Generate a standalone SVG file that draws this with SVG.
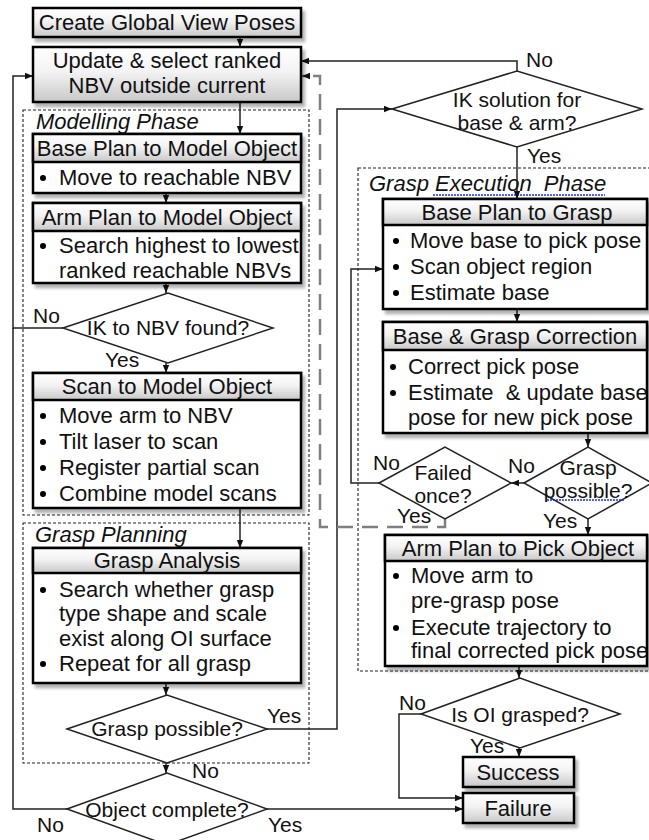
<svg xmlns="http://www.w3.org/2000/svg" width="649" height="840" viewBox="0 0 649 840">
  <defs>
    <linearGradient id="gTitle" x1="0" y1="0" x2="0" y2="1">
      <stop offset="0" stop-color="#ffffff"/>
      <stop offset="0.45" stop-color="#f3f3f3"/>
      <stop offset="1" stop-color="#c8c8c8"/>
    </linearGradient>
    <filter id="shadow" x="-10%" y="-20%" width="130%" height="160%">
      <feGaussianBlur in="SourceAlpha" stdDeviation="1.6"/>
      <feOffset dx="3" dy="4" result="off"/>
      <feComponentTransfer><feFuncA type="linear" slope="0.3"/></feComponentTransfer>
      <feMerge><feMergeNode/><feMergeNode in="SourceGraphic"/></feMerge>
    </filter>
    <marker id="arr" viewBox="0 0 10 10" refX="10" refY="5" markerWidth="8" markerHeight="8" markerUnits="userSpaceOnUse" orient="auto">
      <path d="M0,1 L10,5 L0,9 z" fill="#111"/>
    </marker>
  </defs>
  <style>
    .box { fill: url(#gTitle); stroke: #000; stroke-width: 2.5; }
    .body { fill: #fff; stroke: #000; stroke-width: 2.5; }
    .dia { fill: #fff; stroke: #222; stroke-width: 1.5; }
    .frame { fill: none; stroke: #222; stroke-width: 1.1; stroke-dasharray: 3 2; }
    .t { font-family: "Liberation Sans", Arial, sans-serif; font-size: 22px; fill: #111; }
    .d { font-size: 21px; }
    .c { text-anchor: middle; }
    .it { font-style: italic; }
    .dot { fill: #000; }
    .con { fill: none; stroke: #222; stroke-width: 1.5; }
    .arr { marker-end: url(#arr); }
    .dash { fill: none; stroke: #808080; stroke-width: 2.5; stroke-dasharray: 16 9; marker-end: url(#arr); }
    .spell { fill: none; stroke: #1a2cff; stroke-width: 1.3; stroke-dasharray: 2 1; }
  </style>

  <!-- phase frames -->
  <g id="frames">
    <rect class="frame" x="23" y="110" width="286" height="405"/>
    <text class="t it" x="36" y="129">Modelling Phase</text>
    <rect class="frame" x="23" y="523" width="286" height="240"/>
    <text class="t it" x="35" y="542">Grasp Planning</text>
    <rect class="frame" x="358" y="168" width="296" height="503"/>
    <text class="t it" x="369" y="191" xml:space="preserve">Grasp Execution  Phase</text>
    <path class="spell" d="M433,195 H605"/>
  </g>

  <!-- connectors -->
  <g id="connectors">
    <path class="con arr" d="M240,37 V47"/>
    <path class="con arr" d="M240,102 V134"/>
    <path class="con arr" d="M166,193 V203"/>
    <path class="con arr" d="M166,283 V293"/>
    <path class="con arr" d="M63,328 H13 V76 H33"/>
    <path class="con" d="M67,809 H13 V328"/>
    <path class="con arr" d="M166,363 V373"/>
    <path class="con arr" d="M240,508 V548"/>
    <path class="con arr" d="M166,683 V695"/>
    <path class="con arr" d="M166,763 V773"/>
    <path class="con arr" d="M267,729 H337 V109 H392"/>
    <path class="con arr" d="M267,809 H463"/>
    <path class="con arr" d="M517,71 V61 H301"/>
    <path class="con arr" d="M517,147 V199"/>
    <path class="con arr" d="M517,309 V322"/>
    <path class="con arr" d="M588,433 V447"/>
    <path class="con arr" d="M524,483 H511"/>
    <path class="con arr" d="M379,483 H351 V269 H383"/>
    <path class="dash" d="M445,519 V527 H320 V76 H302"/>
    <path class="con arr" d="M588,519 V535"/>
    <path class="con arr" d="M519,666 V678"/>
    <path class="con arr" d="M421,714 H399 V798 H463"/>
    <path class="con arr" d="M519,748 V757"/>

    <text class="t d" x="33" y="323">No</text>
    <text class="t d" x="105" y="367">Yes</text>
    <text class="t d" x="267" y="723">Yes</text>
    <text class="t d" x="192" y="778">No</text>
    <text class="t d" x="37" y="832">No</text>
    <text class="t d" x="268" y="832">Yes</text>
    <text class="t d" x="526" y="67">No</text>
    <text class="t d" x="527" y="163">Yes</text>
    <text class="t d" x="508" y="473">No</text>
    <text class="t d" x="373" y="470">No</text>
    <text class="t d" x="397" y="523">Yes</text>
    <text class="t d" x="543" y="528">Yes</text>
    <text class="t d" x="399" y="710">No</text>
    <text class="t d" x="470" y="753">Yes</text>
  </g>

  <!-- left column -->
  <g id="create-poses">
    <rect class="box" x="33" y="8" width="268" height="29" filter="url(#shadow)"/>
    <text class="t c" x="167" y="30">Create Global View Poses</text>
  </g>

  <g id="update-nbv">
    <rect class="box" x="33" y="47" width="268" height="55" filter="url(#shadow)"/>
    <text class="t c" x="167" y="68">Update &amp; select ranked</text>
    <text class="t c" x="167" y="93">NBV outside current</text>
  </g>

  <g id="base-plan-model">
    <rect class="body" x="33" y="134" width="268" height="59" filter="url(#shadow)"/>
    <rect class="box" x="33" y="134" width="268" height="28"/>
    <text class="t c" x="167" y="156">Base Plan to Model Object</text>
    <circle class="dot" cx="43" cy="178" r="3"/>
    <text class="t" x="59" y="185">Move to reachable NBV</text>
  </g>

  <g id="arm-plan-model">
    <rect class="body" x="33" y="203" width="268" height="80" filter="url(#shadow)"/>
    <rect class="box" x="33" y="203" width="268" height="28"/>
    <text class="t c" x="167" y="225">Arm Plan to Model Object</text>
    <circle class="dot" cx="43" cy="246" r="3"/>
    <text class="t" x="59" y="253">Search highest to lowest</text>
    <text class="t" x="59" y="278">ranked reachable NBVs</text>
  </g>

  <g id="ik-nbv">
    <polygon class="dia" points="63,328 168,293 273,328 168,363"/>
    <text class="t d c" x="168" y="335">IK to NBV found?</text>
  </g>

  <g id="scan-model">
    <rect class="body" x="33" y="373" width="268" height="135" filter="url(#shadow)"/>
    <rect class="box" x="33" y="373" width="268" height="27"/>
    <text class="t c" x="167" y="394">Scan to Model Object</text>
    <circle class="dot" cx="43" cy="416" r="3"/>
    <text class="t" x="59" y="423">Move arm to NBV</text>
    <circle class="dot" cx="43" cy="442" r="3"/>
    <text class="t" x="59" y="449">Tilt laser to scan</text>
    <circle class="dot" cx="43" cy="468" r="3"/>
    <text class="t" x="59" y="475">Register partial scan</text>
    <circle class="dot" cx="43" cy="494" r="3"/>
    <text class="t" x="59" y="501">Combine model scans</text>
  </g>

  <g id="grasp-analysis">
    <rect class="body" x="33" y="548" width="268" height="135" filter="url(#shadow)"/>
    <rect class="box" x="33" y="548" width="268" height="25"/>
    <text class="t c" x="167" y="568">Grasp Analysis</text>
    <circle class="dot" cx="43" cy="590" r="3"/>
    <text class="t" x="59" y="597">Search whether grasp</text>
    <text class="t" x="59" y="621">type shape and scale</text>
    <text class="t" x="59" y="646">exist along OI surface</text>
    <circle class="dot" cx="43" cy="664" r="3"/>
    <text class="t" x="59" y="671">Repeat for all grasp</text>
  </g>

  <g id="grasp-possible-plan">
    <polygon class="dia" points="67,729 167,695 267,729 167,763"/>
    <text class="t d c" x="167" y="736">Grasp possible?</text>
  </g>

  <g id="object-complete">
    <polygon class="dia" points="67,809 167,773 267,809 167,845"/>
    <text class="t d c" x="167" y="817">Object complete?</text>
  </g>

  <!-- right column -->
  <g id="ik-base-arm">
    <polygon class="dia" points="392,109 517,71 642,109 517,147"/>
    <text class="t d c" x="517" y="107">IK solution for</text>
    <text class="t d c" x="517" y="130">base &amp; arm?</text>
  </g>

  <g id="base-plan-grasp">
    <rect class="body" x="383" y="199" width="264" height="110" filter="url(#shadow)"/>
    <rect class="box" x="383" y="199" width="264" height="26"/>
    <text class="t c" x="517" y="220">Base Plan to Grasp</text>
    <circle class="dot" cx="396" cy="241" r="3"/>
    <text class="t" x="410" y="248">Move base to pick pose</text>
    <circle class="dot" cx="396" cy="267" r="3"/>
    <text class="t" x="410" y="274">Scan object region</text>
    <circle class="dot" cx="396" cy="293" r="3"/>
    <text class="t" x="410" y="300">Estimate base</text>
  </g>

  <g id="base-grasp-correction">
    <rect class="body" x="383" y="322" width="264" height="111" filter="url(#shadow)"/>
    <rect class="box" x="383" y="322" width="264" height="28"/>
    <text class="t c" x="515" y="344">Base &amp; Grasp Correction</text>
    <circle class="dot" cx="393" cy="367" r="3"/>
    <text class="t" x="408" y="374">Correct pick pose</text>
    <circle class="dot" cx="393" cy="393" r="3"/>
    <text class="t" x="408" y="400" xml:space="preserve">Estimate  &amp; update base</text>
    <text class="t" x="408" y="425">pose for new pick pose</text>
  </g>

  <g id="grasp-possible-exec">
    <polygon class="dia" points="524,483 588,447 652,483 588,519"/>
    <text class="t d c" x="588" y="475">Grasp</text>
    <text class="t d c" x="588" y="498">possible?</text>
    <path class="spell" d="M547,500 H625"/>
  </g>

  <g id="failed-once">
    <polygon class="dia" points="379,483 445,447 511,483 445,519"/>
    <text class="t d c" x="443" y="480">Failed</text>
    <text class="t d c" x="443" y="503">once?</text>
  </g>

  <g id="arm-plan-pick">
    <rect class="body" x="385" y="535" width="262" height="131" filter="url(#shadow)"/>
    <rect class="box" x="385" y="535" width="262" height="26"/>
    <text class="t c" x="518" y="556">Arm Plan to Pick Object</text>
    <circle class="dot" cx="396" cy="576" r="3"/>
    <text class="t" x="411" y="583">Move arm to</text>
    <text class="t" x="411" y="608">pre-grasp pose</text>
    <circle class="dot" cx="396" cy="628" r="3"/>
    <text class="t" x="411" y="635">Execute trajectory to</text>
    <text class="t" x="411" y="658">final corrected pick pose</text>
  </g>

  <g id="oi-grasped">
    <polygon class="dia" points="421,714 520,678 620,714 520,748"/>
    <text class="t d c" x="520" y="722">Is OI grasped?</text>
  </g>

  <g id="success">
    <rect class="box" x="463" y="757" width="111" height="30" filter="url(#shadow)"/>
    <text class="t c" x="518" y="780">Success</text>
  </g>

  <g id="failure">
    <rect class="box" x="463" y="793" width="111" height="30" filter="url(#shadow)"/>
    <text class="t c" x="518" y="816">Failure</text>
  </g>
</svg>
